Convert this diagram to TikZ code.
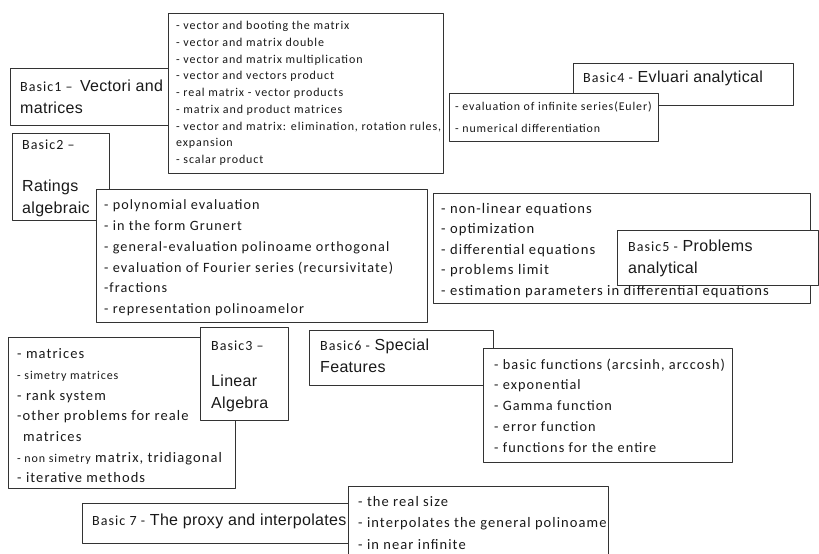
\documentclass[tikz,border=0pt]{standalone}
\usepackage{fontspec}
\setmainfont{Carlito}[LetterSpace=7.5]
\newfontfamily\arialfont{Liberation Sans}[LetterSpace=2]
\usetikzlibrary{positioning}

\newcommand\fs[2]{\fontsize{#1}{#2}\selectfont}
\newcommand\bname[1]{{\rmfamily\fs{14}{22}#1}}

\begin{document}
\begin{tikzpicture}[x=1pt, y=-1pt, line join=round,
  panel/.style={draw=black!80, line width=0.9pt, fill=white, inner sep=0pt, anchor=north west},
  topic/.style={inner sep=0pt, align=left, text=black!90, font=\arialfont\fs{16}{22}},
  itemlist/.style={inner sep=0pt, align=left, text=black!90, font=\fs{14.5}{20.7}}]

  \useasboundingbox (0,0) rectangle (819,554);
  \fill[white] (0,0) rectangle (819,554);

  % --- Basic1 + list ---
  \node[panel, minimum width=165, minimum height=57] (b1) at (10,68) {};
  \node[topic, right=10pt of b1.west] (b1txt) {\bname{Basic1 –}\, Vectori and\\matrices};
  \node[panel, minimum width=275, minimum height=160] (l1) at (168,13) {};
  \node[itemlist, font=\fs{12}{16.7}, right=8pt of l1.west] (l1txt) {%
    - vector and booting the matrix\\
    - vector and matrix double\\
    - vector and matrix multiplication\\
    - vector and vectors product\\
    - real matrix - vector products\\
    - matrix and product matrices\\
    - vector and matrix: elimination, rotation rules,\\
    expansion\\
    - scalar product};

  % --- Basic2 + list ---
  \node[panel, minimum width=97, minimum height=87] (b2) at (12,133) {};
  \node[topic, right=10pt of b2.west, yshift=-1pt] (b2txt) {\bname{Basic2 –}\\[20pt]Ratings\\algebraic};
  \node[panel, minimum width=331, minimum height=133] (l2) at (96,189) {};
  \node[itemlist, font=\fs{14.2}{20.7}, right=8pt of l2.west, yshift=-2pt] (l2txt) {%
    - polynomial evaluation\\
    - in the form Grunert\\
    - general-evaluation polinoame orthogonal\\
    - evaluation of Fourier series (recursivitate)\\
    -fractions\\
    - representation polinoamelor};

  % --- Basic4 + list ---
  \node[panel, minimum width=220, minimum height=42] (b4) at (573,63) {};
  \node[topic, right=10pt of b4.west, yshift=6pt] (b4txt) {\bname{Basic4 -} Evluari analytical};
  \node[panel, minimum width=209, minimum height=48] (l4) at (449,93) {};
  \node[itemlist, font=\fs{11.9}{22}, right=6pt of l4.west] (l4txt) {%
    - evaluation of infinite series(Euler)\\
    - numerical differentiation};

  % --- list + Basic5 ---
  \node[panel, minimum width=377, minimum height=110] (l5) at (433,193) {};
  \node[itemlist, font=\fs{14.6}{20.5}, right=8pt of l5.west, yshift=-2pt] (l5txt) {%
    - non-linear equations\\
    - optimization\\
    - differential equations\\
    - problems limit\\
    - estimation parameters in differential equations};
  \node[panel, minimum width=201, minimum height=55] (b5) at (617,230) {};
  \node[topic, right=11pt of b5.west] (b5txt) {\bname{Basic5 -} Problems\\analytical};

  % --- list + Basic3 ---
  \node[panel, minimum width=227, minimum height=151] (l3) at (8,337) {};
  \node[itemlist, right=9pt of l3.west, yshift=-3pt] (l3txt) {%
    - matrices\\
    {\fs{12}{20.7}- simetry matrices}\\
    - rank system\\
    -other problems for reale\\
    \hspace*{6pt}matrices\\
    {\fs{12}{20.7}- non simetry} matrix, tridiagonal\\
    - iterative methods};
  \node[panel, minimum width=88, minimum height=93] (b3) at (200,327) {};
  \node[topic, right=11pt of b3.west, yshift=-2pt] (b3txt) {\bname{Basic3 –}\\[14pt]Linear\\Algebra};

  % --- Basic6 + list ---
  \node[panel, minimum width=184, minimum height=55] (b6) at (309,330) {};
  \node[topic, right=11pt of b6.west, yshift=2pt] (b6txt) {\bname{Basic6 -} Special\\Features};
  \node[panel, minimum width=249, minimum height=114] (l6) at (483,348) {};
  \node[itemlist, font=\fs{14.3}{20.75}, right=11pt of l6.west] (l6txt) {%
    - basic functions (arcsinh, arccosh)\\
    - exponential\\
    - Gamma function\\
    - error function\\
    - functions for the entire};

  % --- Basic7 + list ---
  \node[panel, minimum width=280, minimum height=40] (b7) at (82,503) {};
  \node[topic, right=10pt of b7.west, yshift=2pt] (b7txt) {\bname{Basic 7 -} The proxy and interpolates};
  \node[panel, minimum width=260, minimum height=73] (l7) at (348,486) {};
  \node[itemlist, font=\fs{14.5}{21.5}, right=10pt of l7.west] (l7txt) {%
    - the real size\\
    - interpolates the general polinoame\\
    - in near infinite};
\end{tikzpicture}
\end{document}
